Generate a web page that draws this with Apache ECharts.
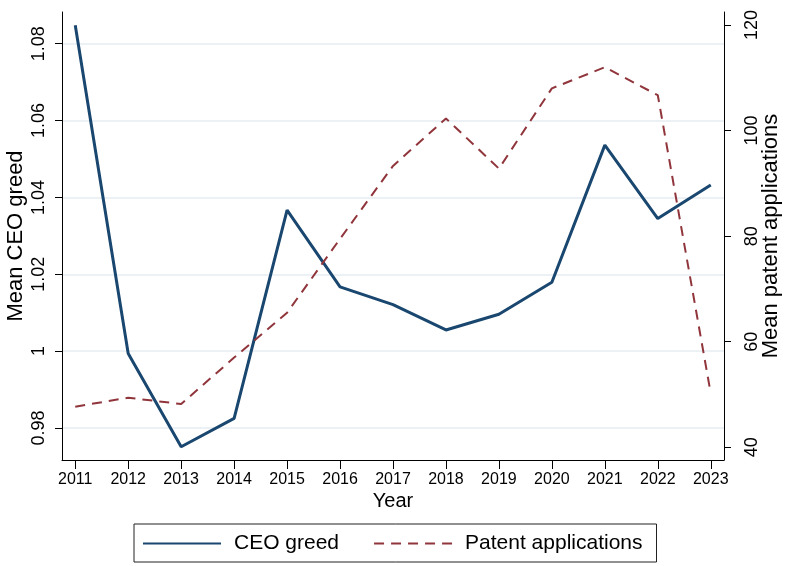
<!DOCTYPE html>
<html>
<head>
<meta charset="utf-8">
<script src="https://cdn.jsdelivr.net/npm/echarts@6/dist/echarts.min.js"></script>
<style>
  html, body { margin: 0; background: #fff; }
  #main { width: 787px; height: 566px; }
</style>
</head>
<body>
<div id="main"></div>
<script>
// values
const years = [2011, 2012, 2013, 2014, 2015, 2016, 2017, 2018, 2019, 2020, 2021, 2022, 2023];
const ceoGreed = [1.0848, 0.9994, 0.9751, 0.9825, 1.0367, 1.0167, 1.0121, 1.0055, 1.0096, 1.0179, 1.0536, 1.0345, 1.0432];
const patentApps = [47.7, 49.4, 48.2, 57.0, 65.5, 79.5, 93.3, 102.3, 92.8, 108.0, 112.0, 106.7, 50.2];

// tick labels
const leftTicks = [0.98, 1, 1.02, 1.04, 1.06, 1.08];
const rightTicks = [40, 60, 80, 100, 120];

const font = '"Liberation Sans", Arial, sans-serif';
const navy = '#1a476f';
const maroon = '#90353b';

const chart = echarts.init(document.getElementById('main'));

chart.setOption({
  backgroundColor: '#fff',
  animation: false,
  textStyle: { fontFamily: font, color: '#000' },
  grid: { left: 62, right: 63, top: 12, bottom: 106, outerBoundsMode: 'none' },
  legend: {
    left: 134,
    top: 524,
    padding: [9, 14, 8, 8],
    borderColor: '#222',
    borderWidth: 1,
    itemWidth: 78,
    itemHeight: 14,
    itemGap: 34,
    itemStyle: { opacity: 0 }, // line only, no symbol in the key
    textStyle: { fontSize: 21, fontFamily: font, color: '#000', padding: [0, 0, 0, 8] },
    data: ['CEO greed', 'Patent applications']
  },
  xAxis: {
    type: 'value',
    min: 2010.75,
    max: 2023.25,
    name: 'Year',
    nameLocation: 'middle',
    nameGap: 31,
    nameMoveOverlap: false,
    nameTextStyle: { fontSize: 20, fontFamily: font, color: '#000' },
    axisLine: { lineStyle: { color: '#000', width: 1 } },
    axisTick: { customValues: years, length: 9, lineStyle: { color: '#000' } },
    axisLabel: {
      customValues: years,
      margin: 12,
      fontSize: 16,
      color: '#000',
      formatter: v => String(v)
    },
    splitLine: { show: false }
  },
  yAxis: [
    {
      type: 'value',
      position: 'left',
      min: 0.97166,
      max: 1.08825,
      name: 'Mean CEO greed',
      nameLocation: 'middle',
      nameGap: 35,
      nameMoveOverlap: false,
      nameTextStyle: { fontSize: 22, fontFamily: font, color: '#000' },
      axisLine: { show: true, lineStyle: { color: '#000', width: 1 } },
      axisTick: { show: true, customValues: leftTicks, length: 7, lineStyle: { color: '#000' } },
      axisLabel: { customValues: leftTicks, rotate: 90, margin: 14, fontSize: 18, color: '#000' },
      splitLine: { show: true, lineStyle: { color: '#e4edf1', width: 1.5 } }
    },
    {
      type: 'value',
      position: 'right',
      min: 37.6,
      max: 122.46,
      name: 'Mean patent applications',
      nameLocation: 'middle',
      nameGap: 36,
      nameMoveOverlap: false,
      nameTextStyle: { fontSize: 22, fontFamily: font, color: '#000' },
      axisLine: { show: true, lineStyle: { color: '#000', width: 1 } },
      axisTick: { show: true, customValues: rightTicks, length: 7, lineStyle: { color: '#000' } },
      axisLabel: { customValues: rightTicks, rotate: 90, margin: 19, fontSize: 18, color: '#000' },
      splitLine: { show: false }
    }
  ],
  series: [
    {
      name: 'CEO greed',
      type: 'line',
      yAxisIndex: 0,
      symbol: 'none',
      color: navy,
      lineStyle: { color: navy, width: 3 },
      data: years.map((y, i) => [y, ceoGreed[i]])
    },
    {
      name: 'Patent applications',
      type: 'line',
      yAxisIndex: 1,
      symbol: 'none',
      color: maroon,
      lineStyle: { color: maroon, width: 2, type: [10, 7] },
      data: years.map((y, i) => [y, patentApps[i]])
    }
  ]
});
</script>
</body>
</html>
